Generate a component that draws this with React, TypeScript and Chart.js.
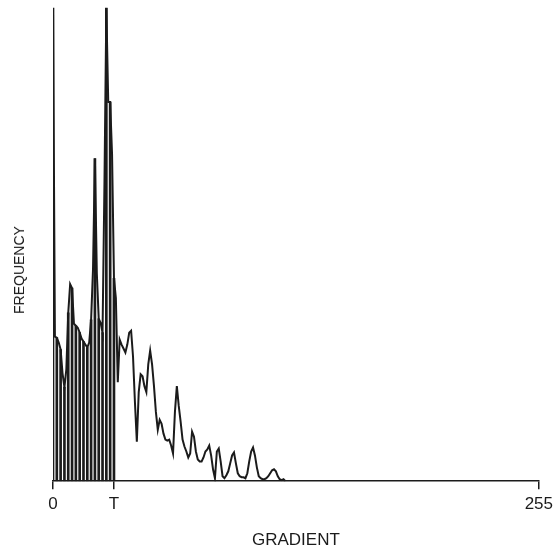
import React, { useEffect, useRef } from 'react';
import { Chart, registerables } from 'chart.js';

Chart.register(...registerables);

// Histogram frequency per gradient bin (bin index = gradient value 0..122; beyond is zero)
const frequency = [
  478, 146, 145, 140, 133, 109, 95, 113, 170, 199,
  195, 159, 157, 155, 150, 144, 141, 138, 135, 140,
  163, 214, 326, 210, 164, 160, 150, 300, 478, 383,
  383, 330, 205, 185, 100, 143, 138, 134, 130, 138,
  150, 152, 126, 80, 40, 90, 108, 106, 96, 90,
  118, 132, 118, 96, 70, 52, 62, 58, 48, 42,
  41, 42, 36, 28, 70, 96, 76, 60, 42, 35,
  30, 24, 28, 50, 45, 30, 22, 20, 20, 24,
  30, 32, 36, 26, 12, 3, 30, 33, 20, 5,
  3, 6, 10, 18, 26, 29, 18, 8, 5, 4,
  4, 3, 8, 20, 30, 34, 26, 14, 5, 3,
  2, 2, 3, 5, 8, 11, 12, 10, 5, 2,
  1, 2, 0,
];
const gradientBins = frequency.map((_, i) => i);

const THRESHOLD = 32;
const GRADIENT_MIN = 0;
const GRADIENT_MAX = 255;
const tickValues = [GRADIENT_MIN, THRESHOLD, GRADIENT_MAX];
const tickLabels = ['0', 'T', '255'];
const xTitle = 'GRADIENT';
const yTitle = 'FREQUENCY';

const INK = '#1b1b1b';
const FONT = "'Liberation Sans', Arial, sans-serif";

export default function App() {
  const canvasRef = useRef<HTMLCanvasElement | null>(null);

  useEffect(() => {
    const canvas = canvasRef.current;
    if (!canvas) return;

    const outline = gradientBins.map((g, i) => ({ x: g, y: frequency[i] }));
    const hatch = gradientBins
      .filter((g) => g <= THRESHOLD && g % 2 === 0)
      .map((g) => ({ x: g, y: frequency[g] }));

    const chart = new Chart(canvas, {
      type: 'bar',
      data: {
        datasets: [
          {
            type: 'bar',
            data: hatch,
            backgroundColor: INK,
            borderWidth: 0,
            barThickness: 2,
            order: 2,
          } as any,
          {
            type: 'line',
            data: outline,
            borderColor: INK,
            borderWidth: 2,
            pointRadius: 0,
            tension: 0,
            fill: false,
            order: 1,
          } as any,
        ],
      },
      options: {
        responsive: false,
        animation: false,
        events: [],
        layout: { padding: { left: 53, right: 16, top: 6, bottom: 0 } },
        plugins: {
          legend: { display: false },
          tooltip: { enabled: false },
          title: { display: false },
        },
        scales: {
          x: {
            type: 'linear',
            min: GRADIENT_MIN,
            max: GRADIENT_MAX,
            offset: false,
            afterBuildTicks: (scale: any) => {
              scale.ticks = tickValues.map((v) => ({ value: v }));
            },
            ticks: {
              autoSkip: false,
              maxRotation: 0,
              minRotation: 0,
              padding: 5,
              color: INK,
              font: { family: FONT, size: 17 },
              callback: (_v: any, index: number) => tickLabels[index] ?? '',
            },
            grid: {
              display: true,
              offset: false,
              drawOnChartArea: false,
              drawTicks: true,
              tickLength: 8,
              color: INK,
              lineWidth: 1.5,
            },
            border: { display: true, color: INK, width: 1.5 },
            title: {
              display: true,
              text: xTitle,
              color: INK,
              font: { family: FONT, size: 17 },
              padding: { top: 11, bottom: 1 },
            },
          },
          y: {
            type: 'linear',
            display: false,
            min: 0,
            max: 480,
          },
        },
      } as any,
    });

    return () => chart.destroy();
  }, []);

  return (
    <div style={{ position: 'fixed', left: 0, top: 0, width: 558, height: 552, background: '#fff' }}>
      <canvas ref={canvasRef} width={558} height={552} style={{ display: 'block', width: 558, height: 552 }} />
      <div
        style={{
          position: 'absolute',
          left: 19,
          top: 270,
          transform: 'translate(-50%, -50%) rotate(-90deg)',
          fontFamily: FONT,
          fontSize: 14,
          color: INK,
          whiteSpace: 'nowrap',
          lineHeight: 1,
        }}
      >
        {yTitle}
      </div>
    </div>
  );
}
